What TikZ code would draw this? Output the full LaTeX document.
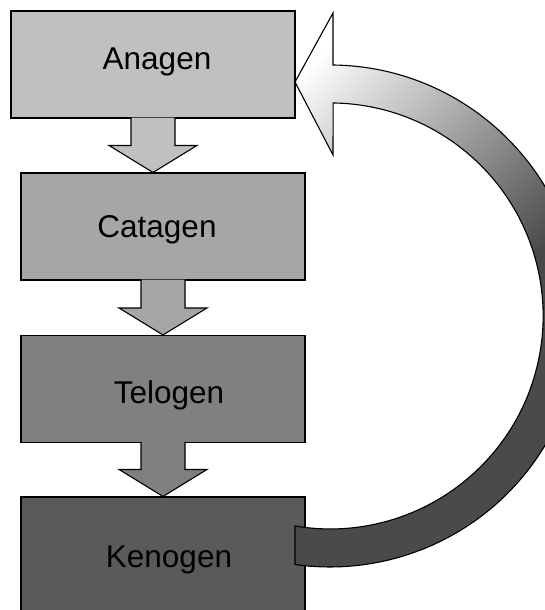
\documentclass[tikz,border=0pt]{standalone}
\usepackage{fontspec}
\setmainfont{Liberation Sans}
\usetikzlibrary{calc}
\definecolor{anacol}{HTML}{C0C0C0}
\definecolor{catcol}{HTML}{A6A6A6}
\definecolor{telcol}{HTML}{808080}
\definecolor{kencol}{HTML}{5A5A5A}
\definecolor{arcdark}{HTML}{4A4A4A}
\pgfdeclareverticalshading{arcshade}{100bp}{color(0bp)=(arcdark); color(45bp)=(arcdark); color(80bp)=(white); color(100bp)=(white)}
\newcommand\blockarrow[3]{%
  \draw[blk=#3] let \p1=(#1), \p2=(#2) in
    (\x1-22pt,\y1+1pt) -- (\x1-22pt,\y2+27pt) -- (\x1-44pt,\y2+27pt) -- (\x1,\y2)
    -- (\x1+44pt,\y2+27pt) -- (\x1+22pt,\y2+27pt) -- (\x1+22pt,\y1+1pt);}
\begin{document}
\begin{tikzpicture}[x=1pt,y=-1pt,
  phase/.style={draw=black, line width=1.1pt, minimum width=284pt, minimum height=107pt, inner sep=0pt},
  lbl/.style={anchor=base, font=\fontsize{31.5}{36}\selectfont, inner sep=0pt},
  blk/.style={draw=black, line width=1.1pt, line join=miter, fill=#1}]
\useasboundingbox (0,0) rectangle (544,610);
\node[phase, fill=anacol] (A) at (153,64.5) {};
\node[phase, fill=catcol] (B) at (163,226.5) {};
\node[phase, fill=telcol] (C) at (163,389) {};
\node[phase, fill=kencol, minimum height=115pt] (D) at (163,554.5) {};
\node[lbl] (tA) at (157,70) {Anagen};
\node[lbl] (tB) at (157,237) {Catagen};
\node[lbl] (tC) at (169,403) {Telogen};
\node[lbl] (tD) at (169,567) {Kenogen};
\blockarrow{A.south}{B.north}{anacol}
\blockarrow{B.south}{C.north}{catcol}
\blockarrow{C.south}{D.north}{telcol}
\shade[draw=black, line width=1.1pt, line join=miter, shading=arcshade, shading angle=45]
  (333,65) arc[start angle=-89.3, end angle=98, radius=251] -- (295,526)
  arc[start angle=99.5, end angle=-89.2, radius=213] -- (333,155) -- (295,82) -- (333,13) -- cycle;
\end{tikzpicture}
\end{document}
